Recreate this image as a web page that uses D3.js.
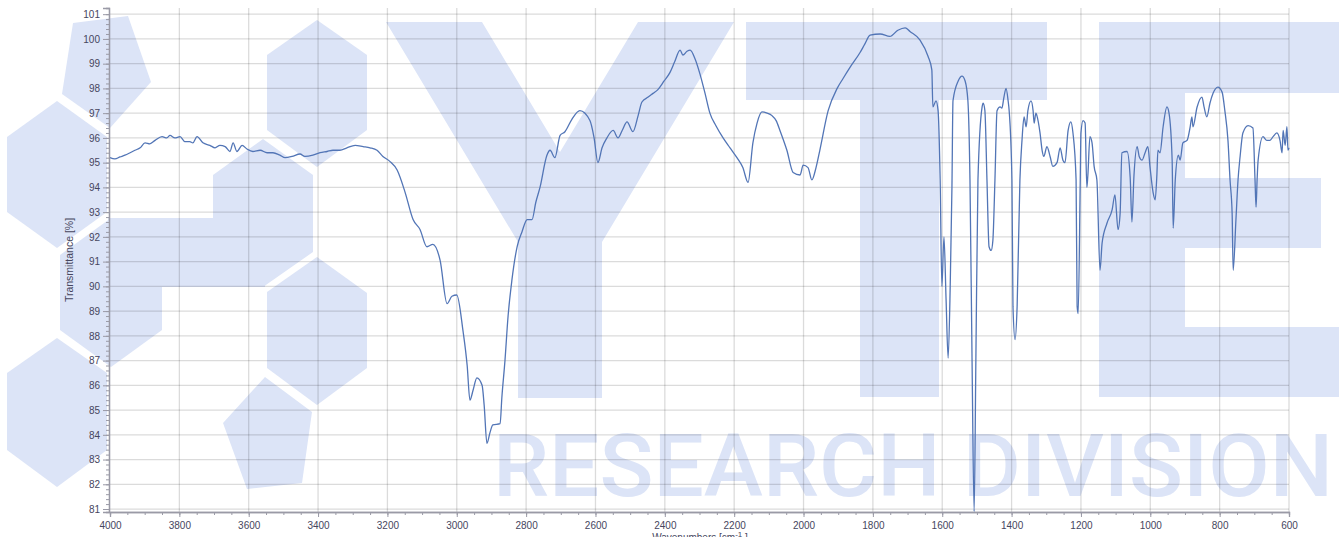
<!DOCTYPE html>
<html><head><meta charset="utf-8">
<script src="https://cdn.jsdelivr.net/npm/d3@7"></script>
<style>body{margin:0;background:#fff;overflow:hidden} svg{display:block}</style>
</head><body>
<svg id="c" width="1339" height="537"></svg>
<script>
// ---- data ----
const wavenumbers = [
4000,3986,3971,3957,3942,3928,3913,3899,3885,3870,3850,3836,3827,3813,3798,3784,3770,3761,3749,3732,
3712,3697,3683,3668,3654,3645,3634,3619,3605,3588,3567,3547,3530,3510,3495,3475,3452,3438,3415,3394,
3374,3357,3337,3317,3293,3270,3250,3230,3213,3193,3172,
3149,3126,3106,3086,3069,3048,3028,3014,3000,2982,2970,2962,2953,2942,2927,2921,2913,2904,2896,2875,
2870,2861,2852,2841,2826,2812,2797,2783,2772,2760,2740,2731,2717,2702,2688,2668,
2645,2616,2604,2593,2581,2567,2549,2535,2523,2509,2492,2477,2466,2448,2434,2420,2402,2385,2371,2356,
2348,2336,2327,2313,2299,2284,2270,2253,2232,2212,2192,2175,2160,2146,2134,2120,2105,2091,2079,2068,
2048,2030,2010,2001,1987,1976,1964,1953,1929,1903,1886,1866,1837,1823,1808,1779,1751,1728,1707,1693,
1664,1641,1630,1627,1618,1612,1606,1601,1595,1589,1583,1577,1572,1569,1554,1543,1534,1526,1520,1514,
1508,1503,1497,1485,1482,1477,1471,1465,1459,1454,1448,1442,1433,1428,1422,1416,1410,1407,1399,1396,
1390,1384,1376,1370,1364,1358,1353,1344,1338,1335,1330,1327,1318,1312,1307,1298,1289,1281,1269,1260,
1252,1246,1237,1229,1223,1214,1211,1208,1202,1200,1194,1188,1183,1180,1174,1168,1162,1154,1145,1139,
1125,1110,1102,1093,1087,1082,1067,1058,1053,1047,1038,1032,1024,1015,1007,1001,992,986,981,978,
972,963,952,946,937,934,928,919,914,906,894,885,880,877,865,851,845,837,828,819,
805,793,785,776,770,764,761,753,747,741,733,718,704,698,695,692,689,675,664,655,
646,635,626,620,617,611,606,603,600];
const transmittance = [
95.2,95.15,95.23,95.3,95.4,95.5,95.6,95.8,95.76,95.9,96.05,96.0,96.1,96.0,96.05,95.85,95.85,95.8,96.05,95.8,
95.7,95.6,95.7,95.65,95.45,95.8,95.45,95.7,95.55,95.45,95.5,95.4,95.4,95.3,95.2,95.25,95.35,95.25,95.3,95.4,
95.45,95.5,95.5,95.6,95.7,95.65,95.6,95.5,95.25,95.05,94.7,
93.8,92.7,92.3,91.6,91.7,91.05,89.3,89.6,89.65,88.2,86.8,85.4,85.8,86.3,86.0,85.2,83.65,84.1,84.4,84.45,
85.5,87.0,88.8,90.25,91.6,92.2,92.7,92.7,93.4,94.0,95.3,95.5,95.2,96.1,96.25,96.75,
97.1,96.7,96.0,95.0,95.6,96.0,96.3,96.0,96.3,96.65,96.25,96.9,97.45,97.65,97.8,97.95,98.3,98.65,99.1,99.55,
99.35,99.5,99.55,99.2,98.6,97.8,97.0,96.5,96.0,95.6,95.2,94.8,94.2,95.8,96.6,97.05,97.0,96.9,96.7,96.3,
95.5,94.6,94.5,94.9,94.8,94.3,94.8,95.5,97.1,98.0,98.4,98.85,99.45,99.8,100.15,100.2,100.1,100.35,100.45,100.3,
99.95,99.3,98.75,97.25,97.5,97.1,94.3,90.0,92.0,89.5,87.1,90.0,94.0,97.5,98.3,98.5,98.3,97.5,94.3,87.0,
80.9,87.0,94.3,97.25,97.4,97.1,94.3,91.6,91.45,91.85,94.3,97.1,97.25,97.2,97.65,98.0,97.5,97.1,94.3,89.2,
87.85,89.2,94.3,95.9,96.85,96.45,97.1,97.5,97.1,96.6,97.0,96.9,96.2,95.5,95.25,95.65,95.25,94.85,95.0,95.6,
95.1,95.0,96.3,96.65,96.2,94.3,89.2,88.9,94.3,96.2,96.7,96.6,94.0,94.5,96.05,95.8,94.85,94.3,90.65,91.75,
92.55,93.1,93.7,92.3,92.95,95.4,95.45,94.4,92.6,94.5,95.65,95.25,95.1,95.4,95.65,94.85,93.8,93.5,94.5,95.5,
95.4,96.45,97.25,97.0,95.1,92.35,94.3,95.3,95.1,95.8,95.9,96.45,96.85,96.45,97.25,97.65,97.25,96.85,97.4,97.8,
98.05,97.85,97.1,95.9,94.3,92.95,90.65,92.7,94.3,95.25,96.2,96.5,96.4,94.3,93.2,94.3,95.1,96.05,95.9,95.9,
96.05,96.2,95.9,95.4,96.3,95.7,96.45,95.5,95.6];
const xTickValues = [4000,3800,3600,3400,3200,3000,2800,2600,2400,2200,2000,1800,1600,1400,1200,1000,800,600];
const yTickValues = d3.range(81,102);
const xTitle = "Wavenumbers [cm";
const xTitleSup = "-1";
const yTitle = "Transmittance [%]";
const watermarkText = "RESEARCH DIVISION";

// ---- decorative watermark geometry ----
const wmPolys = [
 [[73,23],[128,16],[151,82],[110,128],[62,94]],
 [[57,101],[107,137],[107,212],[57,248],[7,212],[7,137]],
 [[111,218],[162,255],[162,330],[111,367],[60,330],[60,255]],
 [[108,218],[265,218],[265,287],[108,287]],
 [[263,139],[313,175],[313,252],[263,287],[213,252],[213,175]],
 [[317,20],[367,55],[367,130],[317,167],[267,130],[267,55]],
 [[317,257],[367,293],[367,368],[317,405],[267,368],[267,292]],
 [[265,377],[312,412],[302,483],[247,489],[223,423]],
 [[57,338],[107,373],[107,450],[57,487],[7,450],[7,373]],
 [[386,22],[482,22],[560,152],[638,22],[734,22],[602,242],[602,398],[518,398],[518,242]],
 [[746,22],[1047,22],[1047,100],[939,100],[939,397],[860,397],[860,100],[746,100]],
 [[1099,22],[1339,22],[1339,93],[1185,93],[1185,178],[1321,178],[1321,248],[1185,248],[1185,327],[1339,327],[1339,397],[1099,397]]
];

const svg = d3.select("#c");
const x = d3.scaleLinear().domain([4000,600]).range([110,1289]);
const y = d3.scaleLinear().domain([80.88,101.25]).range([512,8]);
const wmColor = "#dce4f7";

const wm = svg.append("g");
wm.selectAll("polygon").data(wmPolys).join("polygon")
  .attr("points", d => d.map(p => p.join(",")).join(" "))
  .attr("fill", wmColor);
wm.append("text").attr("x",493).attr("y",496)
  .attr("font-family","Roboto, 'DejaVu Sans', sans-serif").attr("font-size",88).attr("font-weight",500)
  .attr("fill",wmColor).attr("textLength",840).attr("lengthAdjust","spacingAndGlyphs")
  .text(watermarkText);

// grid
const grid = svg.append("g").attr("stroke","#000").attr("stroke-opacity",0.14).attr("stroke-width",1.3);
grid.selectAll(".h").data(yTickValues).join("line")
  .attr("x1",x(4000)).attr("x2",x(600)).attr("y1",d=>y(d)).attr("y2",d=>y(d));
grid.selectAll(".v").data(xTickValues.filter(d=>d!==4000)).join("line")
  .attr("y1",y(101.25)).attr("y2",y(80.88)).attr("x1",d=>x(d)).attr("x2",d=>x(d));

const font = "'Liberation Sans', Arial, sans-serif";
const labelColor = "#46465e";
const axisColor = "#9a9aa6";

// y axis
const yMinor = svg.append("g").attr("transform",`translate(${x(4000)-1},0)`)
  .call(d3.axisLeft(y).tickValues(d3.range(81,101.01,0.2)).tickSize(3).tickFormat(""));
const yAx = svg.append("g").attr("transform",`translate(${x(4000)-1},0)`)
  .call(d3.axisLeft(y).tickValues(yTickValues).tickSize(6).tickPadding(3).tickFormat(d3.format("d")));
// x axis
const xMinor = svg.append("g").attr("transform",`translate(0,${y(80.88)})`)
  .call(d3.axisBottom(x).tickValues(d3.range(4000,599,-50)).tickSize(3).tickFormat(""));
const xAx = svg.append("g").attr("transform",`translate(0,${y(80.88)})`)
  .call(d3.axisBottom(x).tickValues(xTickValues).tickSize(5).tickPadding(5).tickFormat(d3.format("d")));

[yMinor,yAx,xMinor,xAx].forEach(g=>{
  g.selectAll("path,line").attr("stroke",axisColor);
  g.select(".domain").attr("stroke-width",1.3);
  g.selectAll("text").attr("fill",labelColor).attr("font-family",font).attr("font-size",10);
});

// titles
svg.append("text").attr("transform","translate(73,260) rotate(-90)")
  .attr("text-anchor","middle").attr("font-family",font).attr("font-size",10.5)
  .attr("fill",labelColor).text(yTitle);
const xt = svg.append("text").attr("x",700).attr("y",541).attr("text-anchor","middle")
  .attr("font-family",font).attr("font-size",10).attr("fill",labelColor);
xt.append("tspan").text(xTitle);
xt.append("tspan").attr("dy",-4).attr("font-size",8).text(xTitleSup);
xt.append("tspan").attr("dy",4).text(" ]");

// spectrum
const data = wavenumbers.map((w,i)=>({w, t: transmittance[i]}));
svg.append("path").datum(data)
  .attr("fill","none").attr("stroke","#5275b6").attr("stroke-width",1.3)
  .attr("stroke-linejoin","round")
  .attr("d", d3.line().x(d=>x(d.w)).y(d=>y(d.t)).curve(d3.curveMonotoneX));
</script>
</body></html>
